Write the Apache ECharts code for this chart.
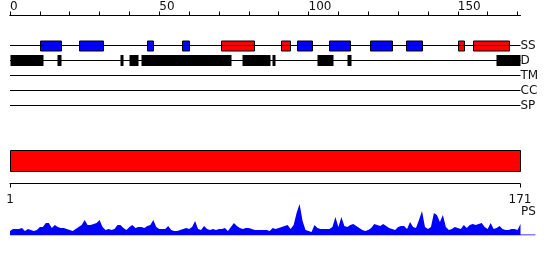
<!DOCTYPE html>
<html><head><meta charset="utf-8">
<script src="https://cdn.jsdelivr.net/npm/echarts@6/dist/echarts.min.js"></script>
<style>html,body{margin:0;padding:0;background:#fff}#c{width:550px;height:260px}</style>
</head><body><div id="c"></div>
<script>
// ---- data ----
const seqLength = 171;
const trackNames = ['SS', 'D', 'TM', 'CC', 'SP'];
const topTickMax = 170;
const topTickStep = 10;
const topLabelStep = 50;
const ssHelix = [[70.8, 82], [90.9, 94], [150, 152], [155, 167]];
const ssStrand = [[10, 17], [23, 31], [46, 48], [57.7, 60], [96, 101.1], [107, 114.1], [120.7, 128], [132.8, 138]];
const disorder = [[0, 11], [15.7, 17], [37, 38.1], [40, 43.1], [44, 74], [77.7, 87], [87.8, 88.8], [102.8, 108.2], [112.9, 114.1], [162.8, 171]];
const domainRange = [[1, 171]];
const bottomAxisMin = 1;
const bottomAxisMax = 171;
const psScore = [4,6,6,6,7,4,6,5,4,5, 8,8,12,12,7,10,8,7,7,6, 5,4,6,8,10,15,10,10,11,12, 15,8,5,6,5,6,10,10,7,5, 8,10,7,8,8,7,9,10,15,8, 6,6,6,9,5,4,4,5,6,7, 6,8,14,6,5,9,6,5,6,5, 6,6,7,4,8,12,9,7,6,7, 7,6,5,5,5,5,5,4,7,6, 7,8,9,10,6,10,22,31,14,5, 4,3,10,7,6,6,6,6,8,18, 8,18,9,8,10,11,9,7,5,4, 5,7,11,10,9,11,9,7,6,5, 8,9,9,6,13,8,7,15,24,8, 6,8,22,20,13,20,8,5,6,8, 7,6,10,7,10,11,10,11,12,8, 6,12,6,7,9,6,5,5,6,6, 5,11];
const psBaselineEnd = 176;

// ---- chart ----
const TXT = '#111';
const FONT = 'DejaVu Sans';
const PX_PER_RES = 510.5 / seqLength;
function rows(list, row) { return list.map(d => [d[0], d[1], row]); }
function boxRender(h, fill, stroke) {
  return function (params, api) {
    const s = api.coord([api.value(0), api.value(2)]);
    const e = api.coord([api.value(1), api.value(2)]);
    return {
      type: 'rect',
      shape: { x: Math.round(s[0]) + 0.5, y: Math.round(s[1] - h / 2), width: Math.round(e[0] - s[0]), height: h },
      style: { fill: fill, stroke: stroke, lineWidth: stroke ? 1 : 0 }
    };
  };
}
const rowIndex = { SS: 2, D: 3, TM: 4, CC: 5, SP: 6 };
const series = [];
trackNames.forEach(n => {
  series.push({
    type: 'line', name: n, xAxisIndex: 0, yAxisIndex: 0,
    data: [[0, rowIndex[n]], [seqLength, rowIndex[n]]],
    symbol: 'none', silent: true,
    lineStyle: { color: '#000', width: 1 },
    endLabel: { show: true, formatter: n, distance: 0, color: TXT, fontSize: 12, fontFamily: FONT }
  });
});
series.push({ type: 'custom', xAxisIndex: 0, yAxisIndex: 0, renderItem: boxRender(10, '#0000ff', '#000'), data: rows(ssStrand, rowIndex.SS), encode: { x: [0, 1], y: 2 } });
series.push({ type: 'custom', xAxisIndex: 0, yAxisIndex: 0, renderItem: boxRender(10, '#ff0000', '#000'), data: rows(ssHelix, rowIndex.SS), encode: { x: [0, 1], y: 2 } });
series.push({ type: 'custom', xAxisIndex: 0, yAxisIndex: 0, renderItem: boxRender(11, '#000', null), data: rows(disorder, rowIndex.D), encode: { x: [0, 1], y: 2 } });
// domain bar
series.push({
  type: 'custom', xAxisIndex: 1, yAxisIndex: 1,
  renderItem: function (params, api) {
    const s = api.coord([api.value(0), 0]);
    const e = api.coord([api.value(1), 0]);
    return { type: 'rect', shape: { x: Math.round(s[0]) + 0.5, y: s[1] + 0.5, width: Math.round(e[0] - s[0]), height: 21 }, style: { fill: '#ff0000', stroke: '#000', lineWidth: 1 } };
  },
  data: domainRange.map(d => [d[0], d[1], 0]), encode: { x: [0, 1], y: 2 }
});
// PS
series.push({
  type: 'line', xAxisIndex: 2, yAxisIndex: 2, symbol: 'none', silent: true,
  data: psScore.map((v, i) => [i, v]),
  lineStyle: { width: 0 }, areaStyle: { color: '#0000ff', opacity: 1 }
});
series.push({
  type: 'line', xAxisIndex: 2, yAxisIndex: 2, symbol: 'none', silent: true,
  data: [[0, 0], [psBaselineEnd, 0]], lineStyle: { color: '#0000ff', width: 1 }
});

const chart = echarts.init(document.getElementById('c'), null, { renderer: 'canvas' });
chart.setOption({
  animation: false,
  backgroundColor: '#fff',
  title: { text: 'PS', left: 521, top: 206, textStyle: { color: TXT, fontSize: 12, fontWeight: 'normal', fontFamily: FONT }, padding: 0 },
  grid: [
    { left: 10, width: 510.5, top: 15.5, height: 105, outerBoundsMode: 'none' },
    { left: 10, width: 510, top: 150, height: 33.5, outerBoundsMode: 'none' },
    { left: 10, width: psBaselineEnd * PX_PER_RES, top: 195, height: 40, outerBoundsMode: 'none' },
    { left: 10, width: topTickMax * PX_PER_RES, top: 15.5, height: 105, outerBoundsMode: 'none' }
  ],
  xAxis: [
    { gridIndex: 0, type: 'value', position: 'top', min: 0, max: seqLength,
      axisLine: { show: true, onZero: false, lineStyle: { color: '#000', width: 1 } },
      axisTick: { show: false }, axisLabel: { show: false }, splitLine: { show: false } },
    { gridIndex: 1, type: 'value', position: 'bottom', min: bottomAxisMin, max: bottomAxisMax, interval: bottomAxisMax - bottomAxisMin,
      axisLine: { show: true, onZero: false, lineStyle: { color: '#000', width: 1 } },
      axisTick: { show: true, length: 4, lineStyle: { color: '#000' } },
      axisLabel: { show: true, margin: 10, color: TXT, fontSize: 12, fontFamily: FONT, showMinLabel: true, showMaxLabel: true },
      splitLine: { show: false } },
    { gridIndex: 2, type: 'value', min: 0, max: psBaselineEnd, show: false },
    { gridIndex: 3, type: 'value', position: 'top', min: 0, max: topTickMax, interval: topTickStep,
      axisLine: { show: true, onZero: false, lineStyle: { color: '#000', width: 1 } },
      axisTick: { show: true, length: 4, inside: false, lineStyle: { color: '#000', width: 1 } },
      axisLabel: { show: true, align: 'left', margin: 3, color: TXT, fontSize: 12, fontFamily: FONT,
        formatter: function (v) { return v % topLabelStep === 0 ? String(v) : ''; } },
      splitLine: { show: false } }
  ],
  yAxis: [
    { gridIndex: 0, type: 'value', min: 0, max: 7, inverse: true, show: false },
    { gridIndex: 1, type: 'value', min: 0, max: 1, inverse: true, show: false },
    { gridIndex: 2, type: 'value', min: 0, max: 40, show: false },
    { gridIndex: 3, type: 'value', min: 0, max: 1, show: false }
  ],
  series: series
});
</script></body></html>
